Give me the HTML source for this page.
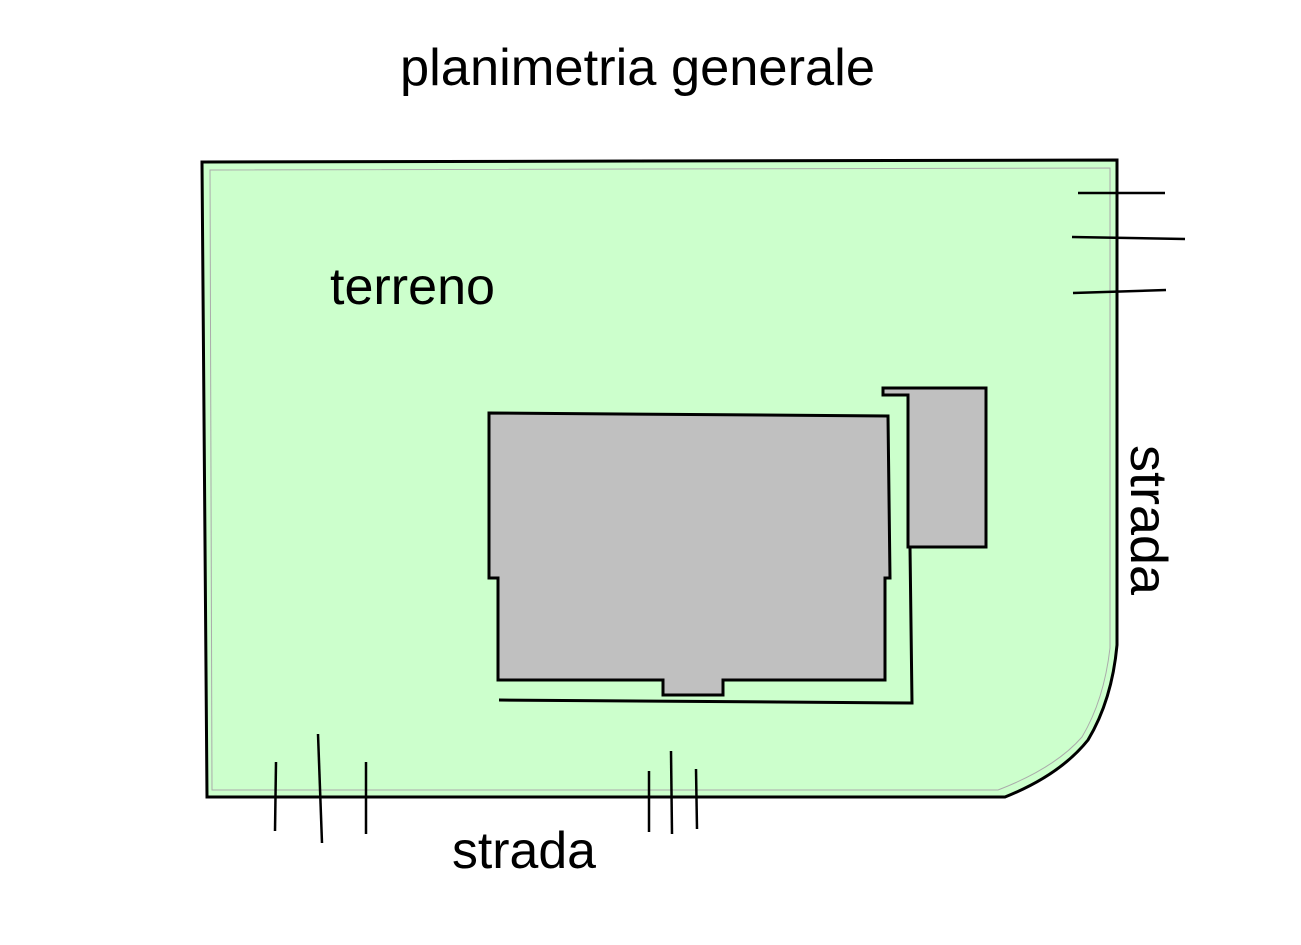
<!DOCTYPE html>
<html><head><style>
html,body{margin:0;padding:0;background:#fff;}
svg{display:block;}
text{font-family:"Liberation Sans",sans-serif;fill:#000;}
</style></head><body>
<svg width="1301" height="945" viewBox="0 0 1301 945" xmlns="http://www.w3.org/2000/svg">
<text x="400" y="85" font-size="52" textLength="475" lengthAdjust="spacingAndGlyphs">planimetria generale</text>
<path d="M202,162 L1117,160 L1117,645 Q1112,700 1088,740 Q1060,775 1005,797 L207,797 Z" fill="#ccffcc" stroke="#000" stroke-width="3"/>
<path d="M210,170 L1110,168 L1110,648 Q1104,700 1082,737 Q1055,768 998,790 L212,790 Z" fill="none" stroke="#aaa" stroke-width="1"/>
<path d="M489,413 L888,416 L890,578 L885,578 L885,680 L723,680 L723,695 L663,695 L663,680 L498,680 L498,578 L489,578 Z" fill="#c0c0c0" stroke="#000" stroke-width="3"/>
<path d="M883,388 L986,388 L986,547 L908,547 L908,395 L883,395 Z" fill="#c0c0c0" stroke="#000" stroke-width="3"/>
<path d="M499,700 L912,703 L910,547" fill="none" stroke="#000" stroke-width="3"/>
<text x="330" y="304" font-size="52" textLength="165" lengthAdjust="spacingAndGlyphs">terreno</text>
<text x="452" y="868" font-size="52" textLength="144" lengthAdjust="spacingAndGlyphs">strada</text>
<text transform="translate(1131,445) rotate(90)" font-size="52" textLength="150" lengthAdjust="spacingAndGlyphs">strada</text>
<g stroke="#000" stroke-width="2.5">
<line x1="1078" y1="193" x2="1165" y2="193"/>
<line x1="1072" y1="237" x2="1185" y2="239"/>
<line x1="1073" y1="293" x2="1166" y2="290"/>
<line x1="276" y1="762" x2="275" y2="831"/>
<line x1="318" y1="734" x2="322" y2="843"/>
<line x1="366" y1="762" x2="366" y2="834"/>
<line x1="649" y1="771" x2="649" y2="832"/>
<line x1="671" y1="751" x2="672" y2="834"/>
<line x1="696" y1="769" x2="697" y2="829"/>
</g>
</svg>
</body></html>
